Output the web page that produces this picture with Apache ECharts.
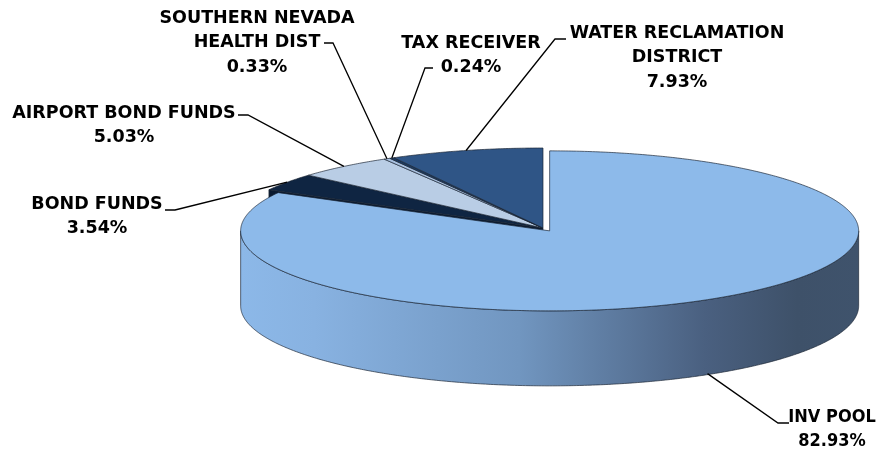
<!DOCTYPE html>
<html>
<head>
<meta charset="utf-8">
<title>Portfolio share</title>
<script src="https://cdn.jsdelivr.net/npm/echarts@6/dist/echarts.min.js"></script>
<style>
  html, body { margin: 0; padding: 0; background: #fff; }
  #chart { width: 885px; height: 450px; }
</style>
</head>
<body>
<div id="chart"></div>
<script>
// slices, clockwise from 12 o'clock
const categories = ['INV POOL', 'BOND FUNDS', 'AIRPORT BOND FUNDS', 'SOUTHERN NEVADA\nHEALTH DIST', 'TAX RECEIVER', 'WATER RECLAMATION\nDISTRICT'];
const shares = [82.93, 3.54, 5.03, 0.33, 0.24, 7.93];

// looks
const topColors = ['#8DBAEA', '#0F2542', '#B9CDE5', '#A9C1E0', '#1B3A62', '#2F5586'];
const wallColors = ['#8DBAEA', '#0A1A30', '#8FA3BC', '#7F97B5', '#122A48', '#223F66'];

// 3d pie geometry (px)
const pie = { cx: 543, cy: 228, rx: 312, ry: 80, depth: 75, explodeIndex: 0, explode: 13 };

// label placement: text centre x, first line y, elbow of leader, end of the short flat part
const labelLayout = [
  { x: 832, y: 417, elbow: [778, 423], end: 789, narrow: true },
  { x: 97, y: 204, elbow: [175, 210], end: 165 },
  { x: 124, y: 113, elbow: [248, 115], end: 238 },
  { x: 257, y: 18, elbow: [333, 43], end: 324 },
  { x: 471, y: 43, elbow: [425, 68], end: 433 },
  { x: 677, y: 33, elbow: [555, 39], end: 566 }
];

const total = shares.reduce((s, v) => s + v, 0);
const startAngles = [];
const endAngles = [];
let acc = 0;
shares.forEach(v => {
  startAngles.push(acc / total * Math.PI * 2);
  acc += v;
  endAngles.push(acc / total * Math.PI * 2);
});

const edge = { stroke: 'rgba(25,35,50,0.85)', lineWidth: 0.8 };

function renderSlice(params, api) {
  const i = params.dataIndex;
  const a0 = startAngles[i], a1 = endAngles[i];
  const mid = (a0 + a1) / 2;
  const D = pie.depth;
  let cx = pie.cx, cy = pie.cy;
  const exploded = i === pie.explodeIndex;
  // the big slice is pulled out, so it sits a bit smaller round its own centre
  const rx = exploded ? pie.rx - 3 : pie.rx;
  if (exploded) {
    cx += pie.explode * Math.sin(mid);
    cy -= pie.explode * Math.cos(mid) * pie.ry / pie.rx;
  }
  const pt = (a, dy) => [cx + rx * Math.sin(a), cy - pie.ry * Math.cos(a) + (dy || 0)];
  const arc = (from, to, dy) => {
    const n = Math.max(2, Math.ceil((to - from) / (Math.PI / 360)));
    const pts = [];
    for (let k = 0; k <= n; k++) pts.push(pt(from + (to - from) * k / n, dy));
    return pts;
  };
  const z = exploded ? 10 : 0;
  const children = [];
  const n = shares.length;
  const prevExploded = pie.explodeIndex === (i - 1 + n) % n;
  const nextExploded = pie.explodeIndex === (i + 1) % n;

  // cut faces, only seen next to the pulled-out slice
  if (Math.sin(a0) < -1e-6 && (exploded || prevExploded)) {
    children.push({
      type: 'polygon', z2: z + 1,
      shape: { points: [[cx, cy], pt(a0), pt(a0, D), [cx, cy + D]] },
      style: Object.assign({ fill: wallColors[i] }, edge)
    });
  }
  if (Math.sin(a1) > 1e-6 && (exploded || nextExploded)) {
    children.push({
      type: 'polygon', z2: z + 1,
      shape: { points: [[cx, cy], pt(a1), pt(a1, D), [cx, cy + D]] },
      style: Object.assign({ fill: wallColors[i] }, edge)
    });
  }
  // outer wall, front half only
  const w0 = Math.max(a0, Math.PI / 2), w1 = Math.min(a1, Math.PI * 1.5);
  if (w1 > w0) {
    const pts = arc(w0, w1).concat(arc(w0, w1, D).reverse());
    children.push({
      type: 'polygon', z2: z + 2,
      shape: { points: pts },
      style: Object.assign({
        fill: exploded ? new echarts.graphic.LinearGradient(0, 0, 1, 0, [
          { offset: 0, color: '#8CB8E8' },
          { offset: 0.12, color: '#88B2E1' },
          { offset: 0.45, color: '#7196C0' },
          { offset: 0.75, color: '#4A6080' },
          { offset: 0.9, color: '#3E5169' },
          { offset: 1, color: '#3F536C' }
        ]) : wallColors[i]
      }, edge)
    });
  }
  // top face
  children.push({
    type: 'polygon', z2: z + 3,
    shape: { points: [[cx, cy]].concat(arc(a0, a1)) },
    style: Object.assign({ fill: topColors[i] }, edge)
  });

  // leader line and label
  const L = labelLayout[i];
  const front = Math.cos(mid) < 0;
  const anchor = pt(mid, front ? D - 1 : 0);
  children.push({
    type: 'polyline', z2: 30,
    shape: { points: [anchor, L.elbow, [L.end, L.elbow[1]]] },
    style: { stroke: '#000', lineWidth: 1.3, fill: null }
  });
  const lh = 24.5;
  children.push({
    type: 'text', z2: 31,
    style: {
      text: categories[i] + '\n' + api.value(0).toFixed(2) + '%',
      x: L.x, y: L.y - lh / 2,
      align: 'center', verticalAlign: 'top',
      lineHeight: lh,
      fontSize: L.narrow ? 18 : 17.5,
      fontWeight: 'bold',
      fontFamily: L.narrow ? "'DejaVu Sans Condensed', 'Liberation Sans Narrow', sans-serif" : "'DejaVu Sans', Verdana, sans-serif",
      fill: '#000'
    }
  });
  return { type: 'group', children: children };
}

const chart = echarts.init(document.getElementById('chart'));
chart.setOption({
  backgroundColor: '#fff',
  animation: false,
  series: [{
    type: 'custom',
    coordinateSystem: 'none',
    renderItem: renderSlice,
    data: shares.map((v, i) => ({ name: categories[i], value: [v] }))
  }]
});
</script>
</body>
</html>
